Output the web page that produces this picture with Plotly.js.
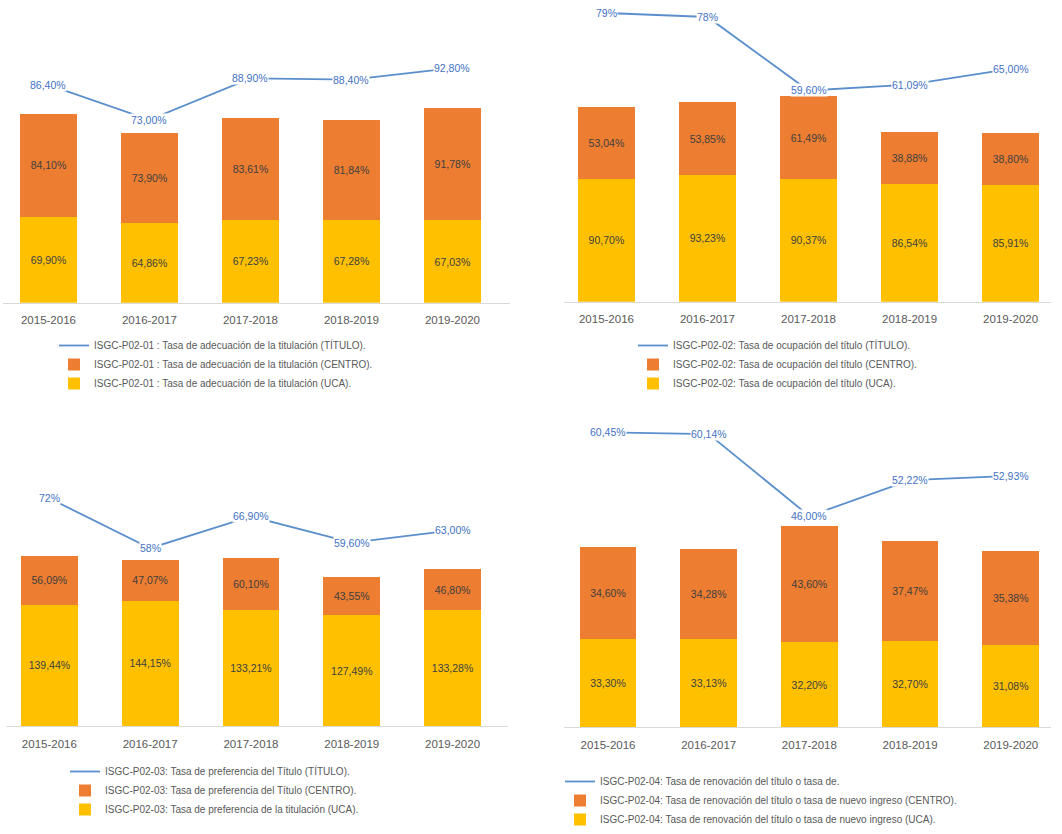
<!DOCTYPE html>
<html><head><meta charset="utf-8">
<script src="https://cdn.plot.ly/plotly-3.0.1.min.js"></script>
<style>html,body{margin:0;padding:0;background:#fff}#chart{width:1062px;height:834px}</style>
</head><body><div id="chart"></div>
<script>
const categories = ['2015-2016','2016-2017','2017-2018','2018-2019','2019-2020'];

// Panel 1: ISGC-P02-01
const p1Uca = [69.90, 64.86, 67.23, 67.28, 67.03];
const p1Centro = [84.10, 73.90, 83.61, 81.84, 91.78];
const p1Titulo = [86.40, 73.00, 88.90, 88.40, 92.80];
const p1TituloDec = [2, 2, 2, 2, 2];
const p1Names = ['ISGC-P02-01 : Tasa de adecuación de la titulación (UCA).',
                 'ISGC-P02-01 : Tasa de adecuación de la titulación (CENTRO).',
                 'ISGC-P02-01 : Tasa de adecuación de la titulación (TÍTULO).'];

// Panel 2: ISGC-P02-02
const p2Uca = [90.70, 93.23, 90.37, 86.54, 85.91];
const p2Centro = [53.04, 53.85, 61.49, 38.88, 38.80];
const p2Titulo = [79, 78, 59.60, 61.09, 65.00];
const p2TituloDec = [0, 0, 2, 2, 2];
const p2Names = ['ISGC-P02-02: Tasa de ocupación del título (UCA).',
                 'ISGC-P02-02: Tasa de ocupación del título (CENTRO).',
                 'ISGC-P02-02: Tasa de ocupación del título (TÍTULO).'];

// Panel 3: ISGC-P02-03
const p3Uca = [139.44, 144.15, 133.21, 127.49, 133.28];
const p3Centro = [56.09, 47.07, 60.10, 43.55, 46.80];
const p3Titulo = [72, 58, 66.90, 59.60, 63.00];
const p3TituloDec = [0, 0, 2, 2, 2];
const p3Names = ['ISGC-P02-03: Tasa de preferencia de la titulación (UCA).',
                 'ISGC-P02-03: Tasa de preferencia del Título (CENTRO).',
                 'ISGC-P02-03: Tasa de preferencia del Título (TÍTULO).'];

// Panel 4: ISGC-P02-04
const p4Uca = [33.30, 33.13, 32.20, 32.70, 31.08];
const p4Centro = [34.60, 34.28, 43.60, 37.47, 35.38];
const p4Titulo = [60.45, 60.14, 46.00, 52.22, 52.93];
const p4TituloDec = [2, 2, 2, 2, 2];
const p4Names = ['ISGC-P02-04: Tasa de renovación del título o tasa de nuevo ingreso (UCA).',
                 'ISGC-P02-04: Tasa de renovación del título o tasa de nuevo ingreso (CENTRO).',
                 'ISGC-P02-04: Tasa de renovación del título o tasa de.'];

const W = 1062, H = 834;
const px2x = p => p / W;
const px2y = p => (H - p) / H;
const fmt = (v, d) => v.toFixed(d).replace('.', ',') + '%';

const FONT = 'Liberation Sans, Arial, sans-serif';
const C_UCA = '#FFC000', C_CENTRO = '#ED7D31', C_LINE = '#5B8FCB', C_LABEL = '#4472C4';

const panels = [
  {uca:p1Uca, centro:p1Centro, titulo:p1Titulo, dec:p1TituloDec, names:p1Names,
   xDom:[3,510], xRange:[-0.45,4.57], yDom:[40,303], yRange:[0,214.3], y2Range:[2.9,103.6], leg:[54,331]},
  {uca:p2Uca, centro:p2Centro, titulo:p2Titulo, dec:p2TituloDec, names:p2Names,
   xDom:[564,1051], xRange:[-0.42,4.40], yDom:[5,302], yRange:[0,218.9], y2Range:[6.75,81], leg:[633,331]},
  {uca:p3Uca, centro:p3Centro, titulo:p3Titulo, dec:p3TituloDec, names:p3Names,
   xDom:[6,508], xRange:[-0.43,4.55], yDom:[470,727], yRange:[0,294.7], y2Range:[8.1,80.1], leg:[65,757]},
  {uca:p4Uca, centro:p4Centro, titulo:p4Titulo, dec:p4TituloDec, names:p4Names,
   xDom:[564,1051], xRange:[-0.437,4.40], yDom:[425,728], yRange:[0,114.3], y2Range:[9.6,61.8], leg:[560,768]}
];

const data = [];
const layout = {
  width: W, height: H, margin: {l:0, r:0, t:0, b:0},
  paper_bgcolor: '#fff', plot_bgcolor: 'rgba(0,0,0,0)',
  barmode: 'stack', bargap: 0.436, showlegend: true,
  font: {family: FONT, color: '#595959'},
  annotations: []
};

panels.forEach((p, i) => {
  const k = i + 1;
  const xa = k === 1 ? 'x' : 'x' + k;
  const yaN = 2 * k - 1, y2N = 2 * k;
  const ya = yaN === 1 ? 'y' : 'y' + yaN;
  const y2 = 'y' + y2N;
  const legId = k === 1 ? 'legend' : 'legend' + k;
  const txt = {family: FONT, size: 10.5, color: '#404040'};

  data.push({type:'bar', x:categories, y:p.uca, xaxis:xa, yaxis:ya, name:p.names[0],
    marker:{color:C_UCA}, text:p.uca.map(v => fmt(v, 2)), textposition:'inside',
    insidetextanchor:'middle', textangle:0, textfont:txt, constraintext:'none',
    legend:legId, hoverinfo:'skip'});
  data.push({type:'bar', x:categories, y:p.centro, xaxis:xa, yaxis:ya, name:p.names[1],
    marker:{color:C_CENTRO}, text:p.centro.map(v => fmt(v, 2)), textposition:'inside',
    insidetextanchor:'middle', textangle:0, textfont:txt, constraintext:'none',
    legend:legId, hoverinfo:'skip'});
  data.push({type:'scatter', mode:'lines', x:categories, y:p.titulo, xaxis:xa, yaxis:y2,
    name:p.names[2], line:{color:C_LINE, width:1.8}, legend:legId, hoverinfo:'skip'});

  p.titulo.forEach((v, j) => {
    layout.annotations.push({xref:xa, yref:y2, x:categories[j], y:v, text:fmt(v, p.dec[j]),
      showarrow:false, bgcolor:'#ffffff', borderpad:0,
      font:{family:FONT, size:10.5, color:C_LABEL}});
  });

  layout[k === 1 ? 'xaxis' : 'xaxis' + k] = {
    domain:[px2x(p.xDom[0]), px2x(p.xDom[1])], range:p.xRange, type:'category',
    anchor:ya, showline:true, linecolor:'#D9D9D9', linewidth:1, ticks:'',
    ticklabelstandoff:7,
    showgrid:false, zeroline:false, tickfont:{family:FONT, size:11.5, color:'#595959'},
    fixedrange:true
  };
  layout[yaN === 1 ? 'yaxis' : 'yaxis' + yaN] = {
    domain:[px2y(p.yDom[1]), px2y(p.yDom[0])], range:p.yRange, anchor:xa,
    showgrid:false, zeroline:false, showticklabels:false, ticks:'', showline:false, fixedrange:true
  };
  layout['yaxis' + y2N] = {
    overlaying:ya, side:'right', anchor:xa, range:p.y2Range,
    showgrid:false, zeroline:false, showticklabels:false, ticks:'', showline:false, fixedrange:true
  };
  layout[legId] = {
    x:px2x(p.leg[0]), y:px2y(p.leg[1]), xanchor:'left', yanchor:'top',
    traceorder:'reversed', orientation:'v', bgcolor:'rgba(0,0,0,0)',
    font:{family:FONT, size:10, color:'#595959'}, tracegroupgap:0
  };
});

Plotly.newPlot('chart', data, layout, {displayModeBar:false, staticPlot:true});
</script>
</body></html>
